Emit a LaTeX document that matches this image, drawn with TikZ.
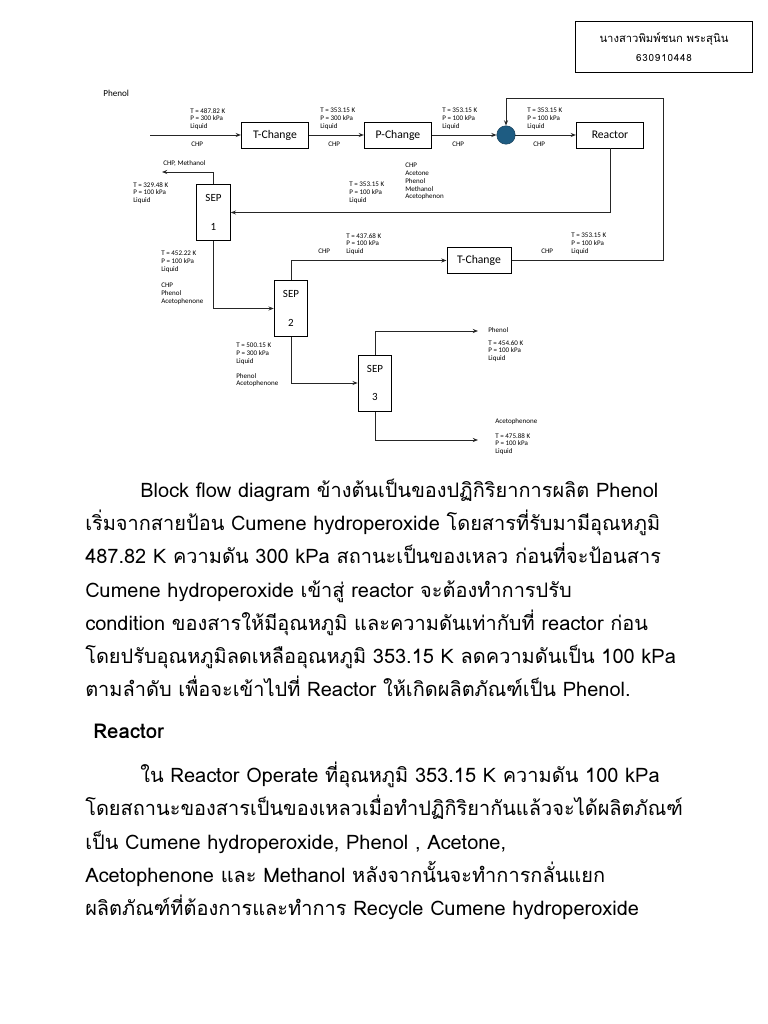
\documentclass[tikz,border=0pt]{standalone}
\usepackage{fontspec}
\setmainfont{Carlito}
\newfontfamily\thaifont[Script=Thai]{Loma}
\usetikzlibrary{arrows.meta, positioning}
\definecolor{mixblue}{RGB}{30,92,130}

\begin{document}
\begin{tikzpicture}[x=0.025cm, y=-0.025cm,
  unit/.style={draw=black, line width=0.7pt, minimum width=1.68cm, minimum height=0.65cm, inner sep=0, font=\fontsize{8.3}{9}\selectfont},
  sepbox/.style={draw=black, line width=0.7pt, minimum width=0.84cm, minimum height=1.4cm, inner sep=0, align=center, font=\fontsize{7.8}{20}\selectfont},
  cond/.style={anchor=north west, inner sep=0, align=left, font=\fontsize{5}{5.5}\selectfont},
  tag/.style={anchor=base west, inner sep=0, font=\fontsize{5}{5.5}\selectfont},
  body/.style={anchor=base west, inner sep=0, font=\thaifont\fontsize{14.2}{18}\selectfont},
  arrow/.style={-{Stealth[length=1.3mm, width=1mm]}, line width=0.7pt, draw=black!85}
]
  \useasboundingbox[fill=white] (0,0) rectangle (768,1024);

  % Name box (top right)
  \node[draw=black, line width=0.7pt, minimum width=4.4cm, minimum height=1.25cm, align=center,
        font=\thaifont\fontsize{8}{14}\selectfont] (name) at (664,47)
        {นางสาวพิมพ์ชนก พระสุนิน\\{\fontsize{7}{14}\selectfont\addfontfeature{LetterSpace=8}630910448}};

  \node[anchor=base west, inner sep=0, font=\fontsize{6.5}{8}\selectfont] (title) at (103,97) {Phenol};

  % Main line
  \coordinate (feed) at (150,135);
  \node[unit] (tc1) at (275,135) {T-Change};
  \node[unit] (pc) at (398,135) {P-Change};
  \node[circle, draw=mixblue!70!black, fill=mixblue, minimum size=0.46cm, inner sep=0] (mix) at (506,135) {};
  \node[unit] (reac) at (610,135) {Reactor};
  \draw[arrow] (feed) -- (tc1);
  \draw[arrow] (tc1) -- (pc);
  \draw[arrow] (pc) -- (mix);
  \draw[arrow] (mix) -- (reac);

  \node[cond] (c1) at (190,108) {T = 487.82 K\\P = 300 kPa\\Liquid};
  \node[tag] (s1) at (191,147) {CHP};
  \node[cond] (c2) at (320,108) {T = 353.15 K\\P = 300 kPa\\Liquid};
  \node[tag] (s2) at (328,147) {CHP};
  \node[cond] (c3) at (442,108) {T = 353.15 K\\P = 100 kPa\\Liquid};
  \node[tag] (s3) at (452,147) {CHP};
  \node[cond] (c4) at (527,108) {T = 353.15 K\\P = 100 kPa\\Liquid};
  \node[tag] (s4) at (533,147) {CHP};

  % Separators
  \node[sepbox] (sep1) at (213.5,212.5) {SEP\\1};
  \node[sepbox] (sep2) at (291,308.5) {SEP\\2};
  \node[sepbox] (sep3) at (375,383) {SEP\\3};
  \node[unit, minimum width=1.6cm] (tc2) at (479,260.5) {T-Change};

  \coordinate (top1) at (162,172);
  \coordinate (rc1) at (663,98);
  \coordinate (out2) at (478,331);
  \coordinate (out3) at (478,440);
  \draw[arrow] (reac.south) |- (sep1.east);
  \draw[arrow] (sep1.north) |- (top1);
  \draw[arrow] (sep1.south) |- (sep2.west);
  \draw[arrow] (sep2.north) |- (tc2.west);
  \draw[arrow] (tc2.east) -| (rc1) -| (mix.north);
  \draw[arrow] (sep2.south) |- (sep3.west);
  \draw[arrow] (sep3.north) |- (out2);
  \draw[arrow] (sep3.south) |- (out3);

  \node[cond] (c5) at (349,182) {T = 353.15 K\\P = 100 kPa\\Liquid};
  \node[cond] (m5) at (405,163) {CHP\\Acetone\\Phenol\\Methanol\\Acetophenon};
  \node[tag] (s6) at (163,166) {CHP, Methanol};
  \node[cond] (c6) at (133,182) {T = 329.48 K\\P = 100 kPa\\Liquid};
  \node[cond] (c7) at (161,251) {T = 452.22 K\\P = 100 kPa\\Liquid};
  \node[cond] (m7) at (161,283) {CHP\\Phenol\\Acetophenone};
  \node[tag] (s8) at (318,254) {CHP};
  \node[cond] (c8) at (346,233) {T = 437.68 K\\P = 100 kPa\\Liquid};
  \node[tag] (s9) at (541,253) {CHP};
  \node[cond] (c9) at (571,233) {T = 353.15 K\\P = 100 kPa\\Liquid};
  \node[cond] (c10) at (236,343) {T = 500.15 K\\P = 300 kPa\\Liquid};
  \node[cond] (m10) at (236,373) {Phenol\\Acetophenone};
  \node[tag] (s11) at (488,332) {Phenol};
  \node[cond] (c11) at (488,340) {T = 454.60 K\\P = 100 kPa\\Liquid};
  \node[tag] (s12) at (495,423) {Acetophenone};
  \node[cond] (c12) at (495,433) {T = 475.88 K\\P = 100 kPa\\Liquid};

  % Text below the diagram
  \node[body] (p1) at (140,497) {Block flow diagram ข้างต้นเป็นของปฏิกิริยาการผลิต Phenol};
  \node[body] (p2) at (85,530) {เริ่มจากสายป้อน Cumene hydroperoxide โดยสารที่รับมามีอุณหภูมิ};
  \node[body] (p3) at (85,563) {487.82 K ความดัน 300 kPa สถานะเป็นของเหลว ก่อนที่จะป้อนสาร};
  \node[body] (p4) at (85,597) {Cumene hydroperoxide เข้าสู่ reactor จะต้องทำการปรับ};
  \node[body] (p5) at (85,630) {condition ของสารให้มีอุณหภูมิ และความดันเท่ากับที่ reactor ก่อน};
  \node[body] (p6) at (85,663) {โดยปรับอุณหภูมิลดเหลืออุณหภูมิ 353.15 K ลดความดันเป็น 100 kPa};
  \node[body] (p7) at (85,696) {ตามลำดับ เพื่อจะเข้าไปที่ Reactor ให้เกิดผลิตภัณฑ์เป็น Phenol.};
  \node[body, font=\thaifont\bfseries\fontsize{14.5}{18}\selectfont] (head) at (93,738) {Reactor};
  \node[body] (q1) at (140,782) {ใน Reactor Operate ที่อุณหภูมิ 353.15 K ความดัน 100 kPa};
  \node[body] (q2) at (85,815) {โดยสถานะของสารเป็นของเหลวเมื่อทำปฏิกิริยากันแล้วจะได้ผลิตภัณฑ์};
  \node[body] (q3) at (85,849) {เป็น Cumene hydroperoxide, Phenol , Acetone,};
  \node[body] (q4) at (85,882) {Acetophenone และ Methanol หลังจากนั้นจะทำการกลั่นแยก};
  \node[body] (q5) at (85,915) {ผลิตภัณฑ์ที่ต้องการและทำการ Recycle Cumene hydroperoxide};
\end{tikzpicture}
\end{document}
